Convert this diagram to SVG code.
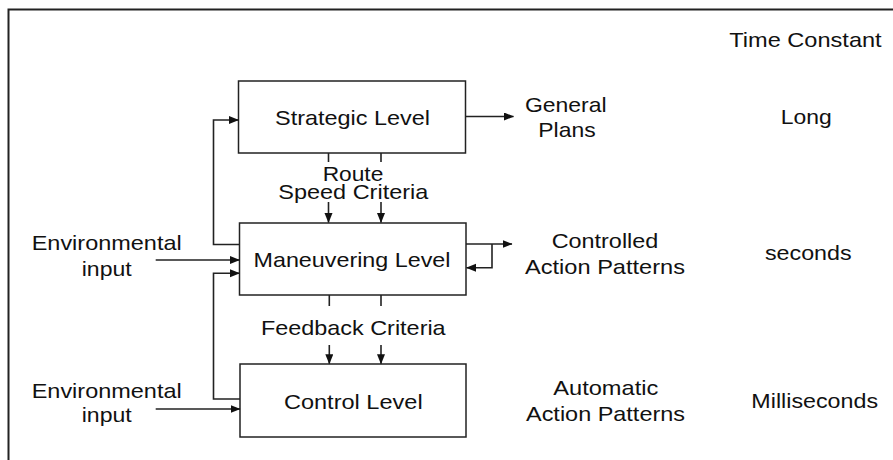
<svg xmlns="http://www.w3.org/2000/svg" width="893" height="460" viewBox="0 0 893 460">
<style>
text{font-family:"Liberation Sans",Arial,sans-serif;font-size:21px;fill:#111;text-anchor:middle}
.box{fill:#fff;stroke:#222;stroke-width:1.5}
.ln{fill:none;stroke:#222;stroke-width:1.6}
.ar{fill:none;stroke:#222;stroke-width:1.6;marker-end:url(#ah)}
</style>
<defs>
<marker id="ah" markerUnits="userSpaceOnUse" markerWidth="11" markerHeight="9" refX="9.5" refY="4" orient="auto">
<path d="M0,0 L10,4 L0,8 z" fill="#111"/>
</marker>
</defs>
<rect width="893" height="460" fill="#fff"/>
<path d="M8.5,470 V9.5 H900" fill="none" stroke="#222" stroke-width="2"/>
<g id="strategic">
<rect class="box" x="238.5" y="81" width="227" height="72"/>
<text x="352.5" y="125" textLength="155" lengthAdjust="spacingAndGlyphs">Strategic Level</text>
</g>
<g id="maneuvering">
<rect class="box" x="239.5" y="223" width="226.5" height="72"/>
<text x="352" y="267" textLength="197" lengthAdjust="spacingAndGlyphs">Maneuvering Level</text>
</g>
<g id="control">
<rect class="box" x="240" y="364" width="226" height="73"/>
<text x="353.3" y="409" textLength="138.7" lengthAdjust="spacingAndGlyphs">Control Level</text>
</g>
<g id="connectors">
<path class="ar" d="M465.5,116.5 H513.5"/>
<path class="ar" d="M466,244 H512"/>
<path class="ar" d="M492,244 V267.7 H466.5"/>
<path class="ar" d="M239.5,244.5 H213.5 V120 H238.5"/>
<path class="ar" d="M155.7,260 H239.5"/>
<path class="ar" d="M240,399 H213.5 V273.3 H239.5"/>
<path class="ar" d="M155.7,409 H240"/>
<path class="ln" d="M328.5,153 V162 M381,153 V162"/>
<path class="ar" d="M328.5,202 V222.5"/>
<path class="ar" d="M381,202 V222.5"/>
<path class="ln" d="M329.3,295 V306 M381,295 V306"/>
<path class="ar" d="M329.3,345 V363.7"/>
<path class="ar" d="M381,345 V363.7"/>
</g>
<g id="labels">
<text><tspan x="353" y="180.5" textLength="60.7" lengthAdjust="spacingAndGlyphs">Route</tspan><tspan x="353.3" y="198.5" textLength="150" lengthAdjust="spacingAndGlyphs">Speed Criteria</tspan></text>
<text x="353.3" y="335" textLength="184.7" lengthAdjust="spacingAndGlyphs">Feedback Criteria</text>
<text x="106.7" y="250" textLength="150" lengthAdjust="spacingAndGlyphs">Environmental</text>
<text x="106.7" y="275.5" textLength="50" lengthAdjust="spacingAndGlyphs">input</text>
<text x="106.7" y="397.7" textLength="150" lengthAdjust="spacingAndGlyphs">Environmental</text>
<text x="106.7" y="421.7" textLength="50" lengthAdjust="spacingAndGlyphs">input</text>
<text x="805.5" y="46.7" textLength="152.3" lengthAdjust="spacingAndGlyphs">Time Constant</text>
<text x="565.8" y="111.7" textLength="81.7" lengthAdjust="spacingAndGlyphs">General</text>
<text x="567" y="137.3" textLength="57.3" lengthAdjust="spacingAndGlyphs">Plans</text>
<text x="806.2" y="124.3" textLength="51" lengthAdjust="spacingAndGlyphs">Long</text>
<text x="605" y="248.3" textLength="106.7" lengthAdjust="spacingAndGlyphs">Controlled</text>
<text x="605" y="274" textLength="160" lengthAdjust="spacingAndGlyphs">Action Patterns</text>
<text x="808.3" y="260" textLength="86.7" lengthAdjust="spacingAndGlyphs">seconds</text>
<text x="605.8" y="395" textLength="105" lengthAdjust="spacingAndGlyphs">Automatic</text>
<text x="605.5" y="420.7" textLength="159" lengthAdjust="spacingAndGlyphs">Action Patterns</text>
<text x="814.7" y="407.7" textLength="126.7" lengthAdjust="spacingAndGlyphs">Milliseconds</text>
</g>
</svg>
